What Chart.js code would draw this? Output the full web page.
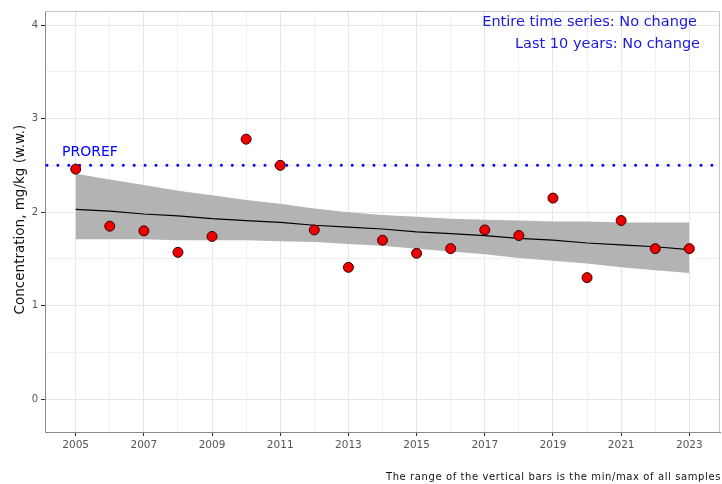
<!DOCTYPE html>
<html>
<head>
<meta charset="utf-8">
<script src="https://cdn.jsdelivr.net/npm/chart.js@4"></script>
<style>
html,body{margin:0;padding:0;background:#fff;}
#wrap{position:relative;width:722px;height:484px;}
</style>
</head>
<body>
<div id="wrap"><canvas id="c" width="722" height="484"></canvas></div>
<script>
// ---- data ----
const years = [2005,2006,2007,2008,2009,2010,2011,2012,2013,2014,2015,2016,2017,2018,2019,2020,2021,2022,2023];
const concentration = [2.46,1.85,1.80,1.57,1.74,2.78,2.50,1.81,1.41,1.70,1.56,1.61,1.81,1.75,2.15,1.30,1.91,1.61,1.61];
const trendFit = [2.03,2.01,1.98,1.96,1.93,1.91,1.89,1.86,1.84,1.82,1.79,1.77,1.75,1.72,1.70,1.67,1.65,1.63,1.60];
const bandUpper = [2.41,2.35,2.29,2.23,2.18,2.13,2.09,2.04,2.00,1.97,1.95,1.93,1.92,1.91,1.90,1.90,1.89,1.89,1.89];
const bandLower = [1.71,1.71,1.71,1.70,1.70,1.70,1.69,1.68,1.66,1.64,1.61,1.58,1.55,1.51,1.48,1.45,1.41,1.38,1.35];
const proref = 2.5;
const xTickLabels = ['2005','2007','2009','2011','2013','2015','2017','2019','2021','2023'];
const yTickLabels = ['0','1','2','3','4'];
const yGridValues = [0,0.5,1,1.5,2,2.5,3,3.5,4];
const xRange = [2004.1, 2023.9];
const yRange = [-0.35, 4.15];
const yAxisTitle = 'Concentration, mg/kg (w.w.)';
const annotations = ['Entire time series: No change', 'Last 10 years: No change'];
const prorefLabel = 'PROREF';
const caption = 'The range of the vertical bars is the min/max of all samples';

const FONT = '"DejaVu Sans", sans-serif';
const pts = (ys) => years.map((x, i) => ({x: x, y: ys[i]}));

const overlay = {
  id: 'overlay',
  beforeDatasetsDraw(chart) {
    const {ctx, chartArea: a, scales: {y}} = chart;
    const py = y.getPixelForValue(proref);
    ctx.save();
    ctx.strokeStyle = '#0000ff';
    ctx.lineWidth = 3;
    ctx.lineCap = 'round';
    ctx.setLineDash([0, 10.9]);
    ctx.beginPath();
    ctx.moveTo(a.left + 2, py);
    ctx.lineTo(a.right, py);
    ctx.stroke();
    ctx.restore();
  },
  afterDraw(chart) {
    const {ctx, chartArea: a, scales: {y}} = chart;
    ctx.save();
    // panel border top/right
    ctx.strokeStyle = '#c8c8c8';
    ctx.lineWidth = 1;
    ctx.beginPath();
    ctx.moveTo(a.left, a.top + 0.5);
    ctx.lineTo(a.right - 0.5, a.top + 0.5);
    ctx.lineTo(a.right - 0.5, a.bottom);
    ctx.stroke();
    // annotations
    ctx.fillStyle = '#1a1adb';
    ctx.font = '14.5px ' + FONT;
    ctx.textAlign = 'right';
    ctx.textBaseline = 'middle';
    ctx.fillText(annotations[0], a.right - 23, a.top + 11);
    ctx.fillText(annotations[1], a.right - 20, a.top + 33);
    // PROREF label
    ctx.fillStyle = '#0000ff';
    ctx.font = '14px ' + FONT;
    ctx.textAlign = 'left';
    ctx.textBaseline = 'alphabetic';
    ctx.fillText(prorefLabel, a.left + 17, y.getPixelForValue(proref) - 9);
    // y axis title
    ctx.save();
    ctx.translate(20, (a.top + a.bottom) / 2 - 2);
    ctx.rotate(-Math.PI / 2);
    ctx.fillStyle = '#111';
    ctx.font = '13.5px ' + FONT;
    ctx.textAlign = 'center';
    ctx.textBaseline = 'middle';
    ctx.fillText(yAxisTitle, 0, 0);
    ctx.restore();
    // caption
    ctx.fillStyle = '#111';
    ctx.font = '10px ' + FONT;
    ctx.letterSpacing = '0.6px';
    ctx.textAlign = 'right';
    ctx.textBaseline = 'middle';
    ctx.fillText(caption, 721, 477);
    ctx.letterSpacing = '0px';
    ctx.restore();
  }
};

new Chart(document.getElementById('c'), {
  type: 'line',
  data: {
    datasets: [
      {
        label: 'Concentration',
        data: pts(concentration),
        showLine: false,
        pointRadius: 5,
        pointHoverRadius: 5,
        pointBackgroundColor: '#ee0000',
        pointBorderColor: '#3a0000',
        pointBorderWidth: 1
      },
      {
        label: 'Trend',
        data: pts(trendFit),
        borderColor: '#000',
        borderWidth: 1.2,
        pointRadius: 0,
        fill: false,
        tension: 0
      },
      {
        label: 'Upper',
        data: pts(bandUpper),
        borderWidth: 0,
        borderColor: 'rgba(0,0,0,0)',
        backgroundColor: '#b3b3b3',
        pointRadius: 0,
        fill: '+1',
        tension: 0
      },
      {
        label: 'Lower',
        data: pts(bandLower),
        borderWidth: 0,
        borderColor: 'rgba(0,0,0,0)',
        pointRadius: 0,
        fill: false,
        tension: 0
      }
    ]
  },
  options: {
    responsive: false,
    animation: false,
    events: [],
    layout: {autoPadding: false, padding: {top: 11, right: 2, left: 0, bottom: 0}},
    plugins: {legend: {display: false}, tooltip: {enabled: false}, title: {display: false}},
    scales: {
      x: {
        type: 'linear',
        min: xRange[0],
        max: xRange[1],
        afterBuildTicks: (s) => { s.ticks = years.map(v => ({value: v})); },
        afterFit: (s) => { s.height = 52; },
        ticks: {
          autoSkip: false,
          maxRotation: 0,
          padding: 3,
          color: '#555',
          font: {family: FONT, size: 10.5},
          callback: (v) => xTickLabels.includes(String(v)) ? String(v) : ''
        },
        grid: {
          color: (c) => (c.tick && xTickLabels.includes(String(c.tick.value))) ? '#e6e6e6' : '#f0f0f0',
          tickColor: (c) => (c.tick && xTickLabels.includes(String(c.tick.value))) ? '#333' : 'rgba(0,0,0,0)',
          tickLength: 4,
          lineWidth: 1
        },
        border: {display: true, color: '#8a8a8a', width: 1}
      },
      y: {
        type: 'linear',
        min: yRange[0],
        max: yRange[1],
        afterBuildTicks: (s) => { s.ticks = yGridValues.map(v => ({value: v})); },
        afterFit: (s) => { s.width = 45; },
        ticks: {
          autoSkip: false,
          padding: 3,
          color: '#555',
          font: {family: FONT, size: 10},
          callback: (v) => yTickLabels.includes(String(v)) ? String(v) : ''
        },
        grid: {
          color: (c) => (c.tick && yTickLabels.includes(String(c.tick.value))) ? '#e6e6e6' : '#f0f0f0',
          tickColor: (c) => (c.tick && yTickLabels.includes(String(c.tick.value))) ? '#333' : 'rgba(0,0,0,0)',
          tickLength: 4,
          lineWidth: 1
        },
        border: {display: true, color: '#8a8a8a', width: 1}
      }
    }
  },
  plugins: [overlay]
});
</script>
</body>
</html>
